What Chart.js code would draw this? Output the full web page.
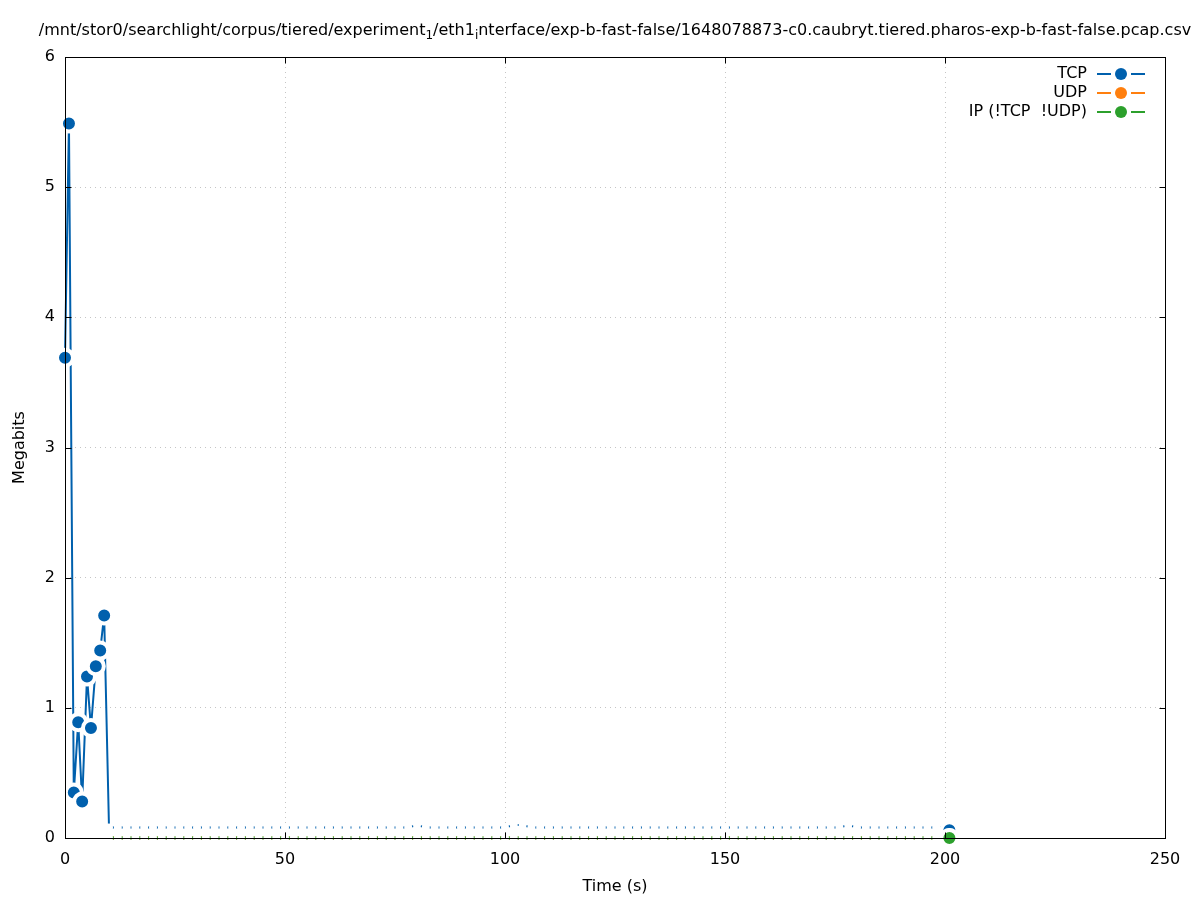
<!DOCTYPE html>
<html>
<head>
<meta charset="utf-8">
<script src="https://cdn.jsdelivr.net/npm/chart.js@4.4.1/dist/chart.umd.min.js"></script>
<style>
  body { margin: 0; background: #fff; }
  #wrap { width: 1197px; height: 900px; }
</style>
</head>
<body>
<div id="wrap"><canvas id="myChart"></canvas></div>
<script>
// sample times (s)
const times = [
  0, 0.9, 2, 3, 3.9, 5, 5.9, 7, 8, 8.9,
  10, 12, 14, 16, 18, 20, 22, 24, 26, 28,
  30, 32, 34, 36, 38, 40, 42, 44, 46, 48,
  50, 52, 54, 56, 58, 60, 62, 64, 66, 68,
  70, 72, 74, 76, 78, 80, 82, 84, 86, 88,
  90, 92, 94, 96, 98, 100, 102, 104, 106, 108,
  110, 112, 114, 116, 118, 120, 122, 124, 126, 128,
  130, 132, 134, 136, 138, 140, 142, 144, 146, 148,
  150, 152, 154, 156, 158, 160, 162, 164, 166, 168,
  170, 172, 174, 176, 178, 180, 182, 184, 186, 188,
  190, 192, 194, 196, 198, 200, 201
];
const tcpMbit = [
  3.69, 5.49, 0.35, 0.89, 0.28, 1.24, 0.845, 1.32, 1.44, 1.71,
  0.08, 0.08, 0.08, 0.08, 0.08, 0.08, 0.08, 0.08, 0.08, 0.08,
  0.08, 0.08, 0.08, 0.08, 0.08, 0.08, 0.08, 0.08, 0.08, 0.08,
  0.08, 0.08, 0.08, 0.08, 0.08, 0.08, 0.08, 0.08, 0.08, 0.08,
  0.08, 0.08, 0.08, 0.08, 0.08, 0.1, 0.08, 0.08, 0.08, 0.08,
  0.08, 0.08, 0.08, 0.08, 0.08, 0.08, 0.1, 0.1, 0.08, 0.08,
  0.08, 0.08, 0.08, 0.08, 0.08, 0.08, 0.08, 0.08, 0.08, 0.08,
  0.08, 0.08, 0.08, 0.08, 0.08, 0.08, 0.08, 0.08, 0.08, 0.08,
  0.08, 0.08, 0.08, 0.08, 0.08, 0.08, 0.08, 0.08, 0.08, 0.08,
  0.08, 0.08, 0.08, 0.08, 0.1, 0.08, 0.08, 0.08, 0.08, 0.08,
  0.08, 0.08, 0.08, 0.08, 0.08, 0.08, 0.06
];
const udpMbit = [
  0, 0, 0, 0, 0, 0, 0, 0, 0, 0,
  0, 0, 0, 0, 0, 0, 0, 0, 0, 0,
  0, 0, 0, 0, 0, 0, 0, 0, 0, 0,
  0, 0, 0, 0, 0, 0, 0, 0, 0, 0,
  0, 0, 0, 0, 0, 0, 0, 0, 0, 0,
  0, 0, 0, 0, 0, 0, 0, 0, 0, 0,
  0, 0, 0, 0, 0, 0, 0, 0, 0, 0,
  0, 0, 0, 0, 0, 0, 0, 0, 0, 0,
  0, 0, 0, 0, 0, 0, 0, 0, 0, 0,
  0, 0, 0, 0, 0, 0, 0, 0, 0, 0,
  0, 0, 0, 0, 0, 0, 0
];
const ipMbit = [
  0, 0, 0, 0, 0, 0, 0, 0, 0, 0,
  0, 0, 0, 0, 0, 0, 0, 0, 0, 0,
  0, 0, 0, 0, 0, 0, 0, 0, 0, 0,
  0, 0, 0, 0, 0, 0, 0, 0, 0, 0,
  0, 0, 0, 0, 0, 0, 0, 0, 0, 0,
  0, 0, 0, 0, 0, 0, 0, 0, 0, 0,
  0, 0, 0, 0, 0, 0, 0, 0, 0, 0,
  0, 0, 0, 0, 0, 0, 0, 0, 0, 0,
  0, 0, 0, 0, 0, 0, 0, 0, 0, 0,
  0, 0, 0, 0, 0, 0, 0, 0, 0, 0,
  0, 0, 0, 0, 0, 0, 0
];
const seriesLabels = ["TCP", "UDP", "IP (!TCP  !UDP)"];
const seriesColors = ["#0060ad", "#ff7f0e", "#2ca02c"];
// how many leading points get a visible marker (the last one always does)
const markedLead = [10, 0, 0];

const titleParts = [
  ["/mnt/stor0/searchlight/corpus/tiered/experiment", false],
  ["1", true],
  ["/eth1", false],
  ["i", true],
  ["nterface/exp-b-fast-false/1648078873-c0.caubryt.tiered.pharos-exp-b-fast-false.pcap.csv", false]
];

const FONT = "DejaVu Sans";
Chart.defaults.font.family = FONT;
Chart.defaults.font.size = 16;
Chart.defaults.color = "#000";

function makeSet(i, values, order, width) {
  const color = seriesColors[i];
  const last = values.length - 1;
  const marked = (c) => c.dataIndex < markedLead[i] || c.dataIndex === last;
  return {
    label: seriesLabels[i],
    data: values.map((v, k) => ({ x: times[k], y: v })),
    borderColor: color,
    borderWidth: width,
    fill: false,
    tension: 0,
    order: order,
    clip: false,
    pointRadius: (c) => (marked(c) ? 8 : 2),
    pointHoverRadius: (c) => (marked(c) ? 8 : 2),
    pointBorderWidth: (c) => (marked(c) ? 4 : 4),
    pointBackgroundColor: (c) => (marked(c) ? color : "#fff"),
    pointBorderColor: "#fff",
  };
}

const framePlugin = {
  id: "frame",
  afterDatasetsDraw(chart) {
    const { ctx, chartArea: a, scales } = chart;
    ctx.save();
    ctx.strokeStyle = "#000";
    ctx.lineWidth = 1;
    const L = Math.round(a.left) + 0.5, R = Math.round(a.right) + 0.5;
    const T = Math.round(a.top) + 0.5, B = Math.round(a.bottom) + 0.5;
    ctx.beginPath();
    scales.y.ticks.forEach((t) => {
      const y = Math.round(scales.y.getPixelForValue(t.value)) + 0.5;
      ctx.moveTo(L, y); ctx.lineTo(L + 6, y);
      ctx.moveTo(R, y); ctx.lineTo(R - 6, y);
    });
    scales.x.ticks.forEach((t) => {
      const x = Math.round(scales.x.getPixelForValue(t.value)) + 0.5;
      ctx.moveTo(x, B); ctx.lineTo(x, B - 6);
      ctx.moveTo(x, T); ctx.lineTo(x, T + 6);
    });
    ctx.stroke();
    ctx.strokeRect(L, T, R - L, B - T);
    ctx.restore();
  },
};

const titlePlugin = {
  id: "gnuTitle",
  afterDraw(chart) {
    const { ctx, chartArea: a } = chart;
    ctx.save();
    ctx.fillStyle = "#000";
    ctx.textBaseline = "alphabetic";
    const big = "16px '" + FONT + "'", small = "12px '" + FONT + "'";
    let total = 0;
    titleParts.forEach(([s, sub]) => {
      ctx.font = sub ? small : big;
      total += ctx.measureText(s).width;
    });
    let x = (a.left + a.right) / 2 - total / 2;
    const base = 35;
    titleParts.forEach(([s, sub]) => {
      ctx.font = sub ? small : big;
      ctx.fillText(s, x, sub ? base + 4 : base);
      x += ctx.measureText(s).width;
    });
    ctx.restore();
  },
};

const keyPlugin = {
  id: "gnuKey",
  afterDraw(chart) {
    const { ctx } = chart;
    ctx.save();
    ctx.font = "16px '" + FONT + "'";
    ctx.textAlign = "right";
    ctx.textBaseline = "middle";
    seriesLabels.forEach((lab, i) => {
      const y = 74 + i * 19;
      ctx.fillStyle = "#000";
      ctx.fillText(lab, 1087, y);
      ctx.strokeStyle = seriesColors[i];
      ctx.lineWidth = 2;
      ctx.beginPath();
      ctx.moveTo(1097, y); ctx.lineTo(1111, y);
      ctx.moveTo(1131, y); ctx.lineTo(1145, y);
      ctx.stroke();
      ctx.fillStyle = seriesColors[i];
      ctx.beginPath();
      ctx.arc(1121, y, 6, 0, Math.PI * 2);
      ctx.fill();
    });
    ctx.restore();
  },
};

const gridStyle = {
  color: "rgba(150,150,150,0.55)",
  lineWidth: 1,
  drawTicks: false,
};

new Chart(document.getElementById("myChart").getContext("2d"), {
  type: "line",
  data: {
    datasets: [
      makeSet(0, tcpMbit, 3, 2),
      makeSet(1, udpMbit, 2, 3),
      makeSet(2, ipMbit, 1, 3),
    ],
  },
  options: {
    responsive: true,
    maintainAspectRatio: false,
    animation: false,
    events: [],
    layout: { padding: { top: 57, right: 32, left: 0, bottom: 0 } },
    plugins: {
      legend: { display: false },
      tooltip: { enabled: false },
      title: { display: false },
    },
    scales: {
      x: {
        type: "linear",
        min: 0,
        max: 250,
        ticks: { stepSize: 50, padding: 12, maxRotation: 0 },
        grid: { ...gridStyle },
        border: { display: false, dash: [1, 4] },
        title: { display: true, text: "Time (s)", padding: { top: 8, bottom: 4 } },
        afterFit: (s) => { s.height = 62; },
      },
      y: {
        min: 0,
        max: 6,
        ticks: { stepSize: 1, padding: 10 },
        grid: { ...gridStyle },
        border: { display: false, dash: [1, 4] },
        title: { display: true, text: "Megabits", padding: { top: 10, bottom: 4 } },
        afterFit: (s) => { s.width = 65; },
      },
    },
  },
  plugins: [framePlugin, titlePlugin, keyPlugin],
});
</script>
</body>
</html>
